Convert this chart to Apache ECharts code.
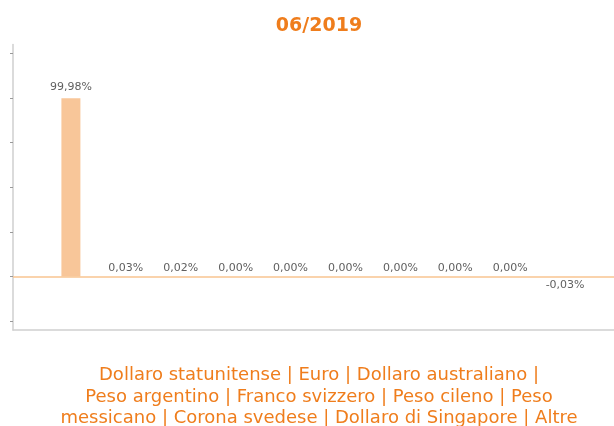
<!DOCTYPE html>
<html>
<head>
<meta charset="utf-8">
<script src="https://cdn.jsdelivr.net/npm/echarts@6/dist/echarts.min.js"></script>
<style>
  html, body { margin: 0; padding: 0; background: #fff; }
  #chart { width: 614px; height: 426px; }
</style>
</head>
<body>
<div id="chart"></div>
<script>
const titleText = '06/2019';
const categories = ['06/2019'];
const names = [
    'Dollaro statunitense', 'Euro', 'Dollaro australiano', 'Peso argentino',
    'Franco svizzero', 'Peso cileno', 'Peso messicano', 'Corona svedese',
    'Dollaro di Singapore', 'Altre'
];
const values = [99.98, 0.03, 0.02, 0.00, 0.00, 0.00, 0.00, 0.00, 0.00, -0.03];
const yTicks = [-25, 0, 25, 50, 75, 100, 125];

const orange = '#ef7d1c';
const barColor = '#f8c699';

// testo della legenda, a capo come nell'originale
const legendText = names.join(' | ')
    .replace('australiano | ', 'australiano |\n')
    .replace('cileno | Peso ', 'cileno | Peso\n');

function fmt(v) {
    return v.toFixed(2).replace('.', ',') + '%';
}

const series = names.map(function (name, i) {
    const neg = values[i] < 0;
    const s = {
        name: name,
        type: 'bar',
        barWidth: 19,
        barGap: '189%',
        data: [values[i]],
        itemStyle: { color: barColor },
        label: {
            show: true,
            position: neg ? 'bottom' : 'top',
            distance: i === 0 ? 6 : 3,
            formatter: function (p) { return fmt(p.value); },
            color: '#5f5f5f',
            fontSize: 11,
            fontFamily: 'DejaVu Sans'
        },
        silent: true
    };
    if (i === 0) {
        s.markLine = {
            silent: true,
            symbol: ['none', 'none'],
            label: { show: false },
            lineStyle: { color: '#f9c491', width: 1.5, type: 'solid' },
            data: [{ yAxis: 0 }]
        };
    }
    return s;
});

const myChart = echarts.init(document.getElementById('chart'));
myChart.setOption({
    animation: false,
    title: [
        {
            text: titleText,
            left: 314,
            top: 12,
            textAlign: 'center',
            textStyle: {
                color: orange,
                fontSize: 19,
                fontWeight: 'bold',
                fontFamily: 'DejaVu Sans'
            }
        },
        {
            text: legendText,
            left: 314,
            top: 360,
            textAlign: 'center',
            textStyle: {
                color: orange,
                fontSize: 18,
                lineHeight: 21.5,
                fontWeight: 'normal',
                fontFamily: 'DejaVu Sans'
            }
        }
    ],
    grid: {
        left: 13,
        right: -9,
        top: 44.6,
        bottom: 96,
        outerBoundsMode: 'none'
    },
    xAxis: {
        type: 'category',
        data: categories,
        axisLine: { onZero: false, lineStyle: { color: '#cfcfcf', width: 1.5 } },
        axisTick: { alignWithLabel: true, length: 3, lineStyle: { color: '#999' } },
        axisLabel: { show: false }
    },
    yAxis: {
        type: 'value',
        min: -30,
        max: 130,
        axisLine: { show: true, lineStyle: { color: '#cfcfcf', width: 1.5 } },
        axisTick: { show: true, length: 3, customValues: yTicks, lineStyle: { color: '#999' } },
        axisLabel: { show: false },
        splitLine: { show: false }
    },
    series: series
});
</script>
</body>
</html>
